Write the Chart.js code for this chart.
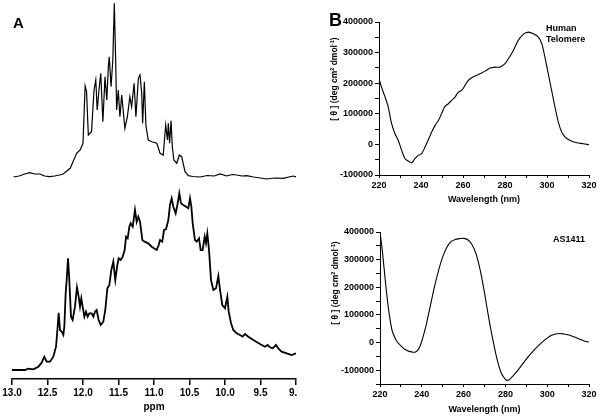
<!DOCTYPE html>
<html>
<head>
<meta charset="utf-8">
<script src="https://cdn.jsdelivr.net/npm/chart.js@4.4.0/dist/chart.umd.min.js"></script>
<style>
body { margin: 0; background: #fff; }
#wrap { position: relative; width: 600px; height: 417px; overflow: hidden; font-family: "Liberation Sans", Arial, sans-serif; font-weight: bold; color: #000; }
canvas { position: absolute; }
.lbl { position: absolute; white-space: nowrap; line-height: 11px; font-size: 9px; }
.ytitle { position: absolute; width: 140px; text-align: center; font-size: 8.5px; line-height: 12px; transform: rotate(-90deg); white-space: nowrap; }
.ytitle sup { font-size: 5.5px; vertical-align: 3px; }
</style>
</head>
<body>
<div id="wrap">
  <canvas id="nmr" width="298" height="417" style="left:0;top:0"></canvas>
  <canvas id="cdTelo" width="300" height="210" style="left:300px;top:0"></canvas>
  <canvas id="cdAS" width="300" height="207" style="left:300px;top:210px"></canvas>
  <div class="lbl" style="left:13px;top:15px;font-size:15px;line-height:15px">A</div>
  <div class="lbl" style="left:329px;top:11px;font-size:18px;line-height:18px">B</div>
  <div class="lbl" style="left:546px;top:23px">Human<br>Telomere</div>
  <div class="lbl" style="left:553px;top:234px">AS1411</div>
  <div class="ytitle" style="left:263px;top:72px">[ θ ] (deg cm<sup>2</sup> dmol<sup>-1</sup>)</div>
  <div class="ytitle" style="left:264px;top:276px">[ θ ] (deg cm<sup>2</sup> dmol<sup>-1</sup>)</div>
</div>
<script>
// panel A: 1H NMR imino region, arbitrary intensity
const ppmTop = [12.98, 12.90, 12.82, 12.75, 12.68, 12.61, 12.54, 12.47, 12.40, 12.33, 12.28, 12.18, 12.09, 12.04, 12.00,
  11.97, 11.95, 11.925, 11.88, 11.845, 11.82, 11.80, 11.775, 11.75, 11.72, 11.69, 11.665, 11.643, 11.63, 11.605, 11.58,
  11.559, 11.54, 11.526, 11.503, 11.48, 11.455, 11.43, 11.41, 11.375, 11.34, 11.315, 11.28, 11.255, 11.22, 11.197, 11.173,
  11.16, 11.136, 11.113, 11.08, 11.03, 10.96, 10.915, 10.87, 10.835, 10.81, 10.798, 10.78, 10.76, 10.742, 10.72, 10.68,
  10.643, 10.61, 10.563, 10.517, 10.45, 10.35, 10.25, 10.15, 10.07, 9.976, 9.90, 9.835, 9.76, 9.694, 9.6, 9.5, 9.413,
  9.3, 9.179, 9.1, 9.038, 9.0];
const intTop = [0, 1, 3, 4.3, 3, 3, 1, 0.3, 1, 2, 3, 8.7, 23.7, 27, 33.7,
  91, 85.3, 42, 45.3, 87, 97, 67, 87, 103.7, 55.3, 100.3, 77, 110.3, 120.3, 90.3, 117,
  173.7, 117, 67, 87, 60.3, 82, 63.7, 48.7, 60.3, 80.3, 70.3, 93.7, 60.3, 98.7, 102, 83.7,
  53.7, 95.3, 50.3, 37, 35.3, 33.7, 23.7, 22, 52, 37, 53.7, 33.7, 56.3, 30.3, 17, 13.7,
  22, 20.3, 5.3, 1.3, 0.5, 0, 1.5, 1, 3, 1, 2.5, 2, 1, 1.3, 0, -1, -2,
  -1, -1.3, 0, 1, 0];

const ppmBottom = [13.0, 12.817, 12.77, 12.70, 12.629, 12.582, 12.545, 12.512, 12.465, 12.418, 12.38, 12.357, 12.343,
  12.324, 12.30, 12.277, 12.263, 12.244, 12.23, 12.211, 12.193, 12.169, 12.146, 12.113, 12.085, 12.061, 12.042, 12.024,
  12.005, 11.981, 11.958, 11.934, 11.911, 11.878, 11.854, 11.831, 11.808, 11.779, 11.751, 11.714, 11.686, 11.657, 11.629,
  11.601, 11.573, 11.545, 11.516, 11.498, 11.469, 11.441, 11.413, 11.394, 11.371, 11.347, 11.329, 11.30, 11.268, 11.244,
  11.221, 11.197, 11.164, 11.132, 11.08, 11.033, 11.0, 10.962, 10.934, 10.915, 10.883, 10.859, 10.831, 10.798, 10.775,
  10.751, 10.728, 10.695, 10.671, 10.643, 10.62, 10.587, 10.549, 10.517, 10.493, 10.474, 10.455, 10.423, 10.399, 10.366,
  10.343, 10.315, 10.286, 10.268, 10.249, 10.225, 10.197, 10.164, 10.127, 10.094, 10.07, 10.038, 10.0, 9.967, 9.948,
  9.915, 9.883, 9.836, 9.789, 9.751, 9.718, 9.671, 9.601, 9.507, 9.437, 9.399, 9.366, 9.329, 9.282, 9.249, 9.202,
  9.131, 9.061, 9.0];
const intBottom = [0, 0, 1.3, 0.7, 3.3, 7.3, 13.3, 8.3, 8.3, 13.3, 23.3, 43.3, 57.3,
  40, 38.3, 35, 43.3, 76.7, 90, 111.7, 90, 53.3, 50, 63.3, 82.7, 73.3, 63.3, 71.7,
  63.3, 53.3, 58.3, 53.3, 56.7, 56.7, 53.3, 58.3, 60, 50, 45, 48.3, 60, 81.7, 85,
  100, 108.3, 90, 105, 111.7, 110, 113.3, 120, 133.3, 131.7, 143.3, 146.7, 143.3, 160, 148.3,
  153.3, 148.3, 130, 128.3, 126.7, 123.3, 121.7, 120, 125, 130, 128.3, 140, 140.7, 150, 165,
  171.7, 163.3, 156.7, 165, 176.7, 166.7, 165, 163.3, 161.7, 171.7, 163.3, 146.7, 130, 128.3, 131.7,
  120, 120, 133.3, 126.7, 136.7, 120, 90, 80, 81.7, 94, 80, 65, 61.7, 73.3, 58.3,
  46.7, 40, 36.7, 35, 33.3, 36, 33.3, 30, 26, 23.3, 25, 22.7, 21.7, 25, 21.7, 18.3,
  16.7, 15, 16.7];

// panel B: CD spectra
const wlTelo = [220, 221.3, 222.9, 224.4, 226.0, 227.6, 229.2, 230.8, 232.4, 234.0, 235.6, 237.1, 238.7, 240.3, 241.9,
  243.5, 245.1, 246.7, 248.3, 249.8, 251.4, 253.0, 254.6, 256.2, 257.8, 259.4, 261.0, 262.5, 264.1, 265.7, 268.1,
  270.5, 272.9, 275.2, 277.6, 280.0, 281.6, 284.0, 286.3, 288.7, 291.1, 293.5, 295.9, 297.5, 299.0, 300.6, 302.2,
  303.8, 305.4, 307.0, 308.6, 311.0, 314.1, 317.3, 320];
const cdTelo = [215000, 185000, 154600, 122000, 67600, 35000, 13000, -19600, -46700, -54500, -59800, -46700, -36000,
  -30400, -8800, 15300, 40300, 62100, 78400, 100300, 124200, 132900, 143800, 154600, 171000, 176500, 192800, 209200,
  218000, 223300, 231000, 239500, 249300, 252600, 252600, 263700, 280000, 307200, 339900, 359500, 367000, 361700,
  350700, 329100, 285300, 231000, 176500, 122000, 73000, 40300, 23900, 13100, 5500, 2200, -1000];

const wlAS = [220, 221, 222, 223, 224, 225, 226, 228, 230, 232, 234, 236, 237, 238, 239, 240, 242, 244, 246, 248, 250,
  252, 254, 256, 258, 260, 262, 264, 266, 268, 270, 272, 274, 276, 278, 280, 281, 282, 284, 286, 288, 290, 292, 294,
  296, 298, 300, 302, 304, 306, 308, 310, 312, 314, 316, 318, 320];
const cdAS = [400000, 340000, 265000, 190000, 125000, 75000, 38000, 5000, -12000, -25000, -32000, -35000, -34000,
  -28000, -15000, 5000, 60000, 130000, 200000, 260000, 310000, 345000, 365000, 373000, 376000, 377000, 372000, 355000,
  320000, 260000, 180000, 90000, 10000, -60000, -110000, -133000, -137000, -133000, -118000, -100000, -80000, -60000,
  -42000, -25000, -10000, 4000, 16000, 26000, 31000, 33000, 31000, 28000, 23000, 17000, 11000, 5000, 2000];

const TOP_OFFSET = 193;
const FONT = 'Liberation Sans';

Chart.defaults.color = '#000';
Chart.defaults.animation = false;

function pts(xs, ys, off) {
  return xs.map((x, i) => ({ x: x, y: ys[i] + (off || 0) }));
}
function fixX(h) {
  return s => { s.height = h; s.paddingLeft = 0; s.paddingRight = 0; };
}
function fixY(w) {
  return s => { s.width = w; s.paddingTop = 0; s.paddingBottom = 0; };
}

new Chart(document.getElementById('nmr'), {
  type: 'scatter',
  data: {
    datasets: [{
      data: pts(ppmTop, intTop, TOP_OFFSET),
      showLine: true, borderColor: '#000', borderWidth: 1.2, pointRadius: 0
    }, {
      data: pts(ppmBottom, intBottom),
      showLine: true, borderColor: '#000', borderWidth: 1.8, pointRadius: 0
    }]
  },
  options: {
    responsive: false,
    layout: { padding: { left: 12, right: 2, top: 0, bottom: 0 } },
    plugins: { legend: { display: false }, tooltip: { enabled: false } },
    scales: {
      x: {
        type: 'linear', min: 9, max: 13, reverse: true,
        afterFit: fixX(38),
        border: { display: true, color: '#000', width: 1.5 },
        grid: { drawOnChartArea: false, drawTicks: true, tickLength: 6, color: '#000', lineWidth: 1.5 },
        ticks: { stepSize: 0.5, autoSkip: false, maxRotation: 0, padding: 2,
                 font: { family: FONT, size: 10, weight: 'bold' },
                 callback: v => v.toFixed(1) },
        title: { display: true, text: 'ppm', padding: { top: 0, bottom: 4 },
                 font: { family: FONT, size: 10, weight: 'bold', lineHeight: 1.2 } }
      },
      y: { display: false, min: -9, max: 370 }
    }
  }
});

function cdChart(id, xs, ys, yMin, yW, xH, titlePad) {
  return new Chart(document.getElementById(id), {
    type: 'scatter',
    data: {
      datasets: [{
        data: pts(xs, ys),
        showLine: true, borderColor: '#000', borderWidth: 1.1, pointRadius: 0, tension: 0.3
      }]
    },
    options: {
      responsive: false,
      layout: { padding: { left: 0, right: 11, top: 22, bottom: 0 } },
      plugins: { legend: { display: false }, tooltip: { enabled: false } },
      scales: {
        x: {
          type: 'linear', min: 220, max: 320,
          afterFit: fixX(xH),
          border: { display: true, color: '#000', width: 1 },
          grid: { drawOnChartArea: false, drawTicks: true, tickLength: 3, color: '#000' },
          ticks: { stepSize: 10, autoSkip: false, maxRotation: 0, padding: 2,
                   font: { family: FONT, size: 9, weight: 'bold' },
                   callback: v => (v % 20 === 0 ? String(v) : '') },
          title: { display: true, text: 'Wavelength (nm)', padding: { top: 0, bottom: titlePad },
                   font: { family: FONT, size: 9, weight: 'bold', lineHeight: 1.2 } }
        },
        y: {
          min: yMin, max: 400000,
          afterFit: fixY(yW),
          border: { display: true, color: '#000', width: 1 },
          grid: { drawOnChartArea: false, drawTicks: true, tickLength: 4, color: '#000' },
          ticks: { stepSize: 50000, autoSkip: false, padding: 2,
                   font: { family: FONT, size: 9, weight: 'bold' },
                   callback: v => (v % 100000 === 0 ? String(v) : '') }
        }
      }
    }
  });
}

cdChart('cdTelo', wlTelo, cdTelo, -100000, 79, 35, 4.6);
cdChart('cdAS', wlAS, cdAS, -150000, 80, 33, 1.6);
</script>
</body>
</html>
